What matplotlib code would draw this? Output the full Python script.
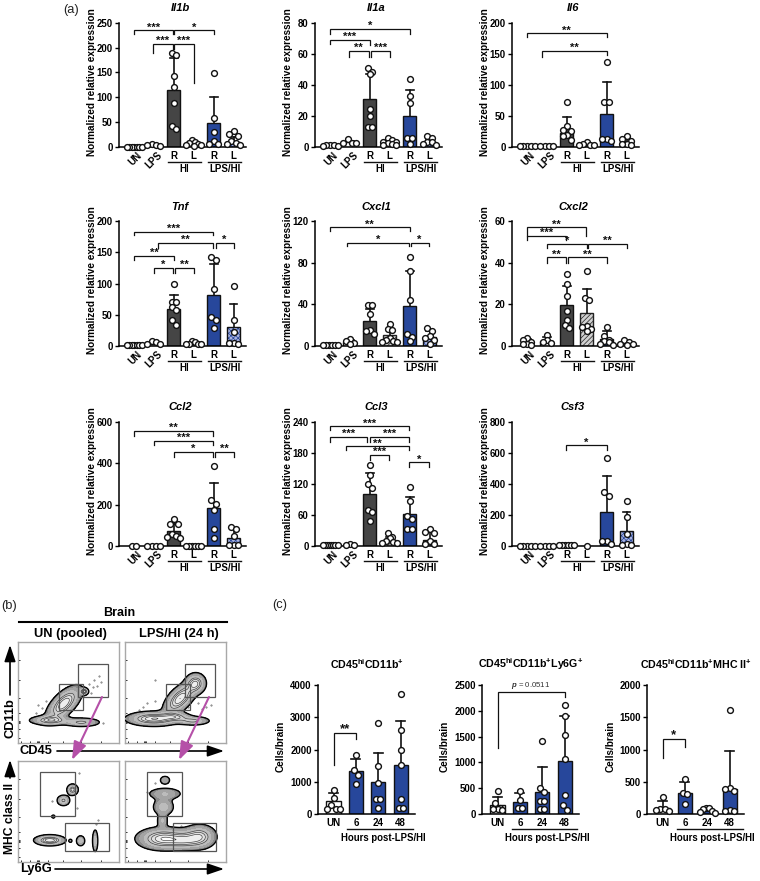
import numpy as np
import matplotlib
matplotlib.use('Agg')
import matplotlib.pyplot as plt
from matplotlib.patches import Rectangle

plt.rcParams['font.family'] = ['Liberation Sans', 'DejaVu Sans']
plt.rcParams['font.weight'] = 'bold'
plt.rcParams['mathtext.fontset'] = 'custom'
plt.rcParams['mathtext.rm'] = 'Liberation Sans:bold'
plt.rcParams['mathtext.bf'] = 'Liberation Sans:bold'
plt.rcParams['mathtext.it'] = 'Liberation Sans:italic'
plt.rcParams['hatch.linewidth'] = 0.5

# ---------- Panel (a) data ----------
IL1B_BAR = [1, 4.5, 114, 7, 48, 11]
IL1B_ERR = [1.5, 6, 178, 10, 100, 21]
IL1B_PTS = [[.5, .5, .5, .5, .5, .5, .5], [2, 5, 7, 5], [185, 190, 142, 120, 88, 42, 36],
            [14, 10, 8, 6, 5, 4, 3], [148, 58, 31, 13, 7, 7], [32, 27, 22, 12, 8, 6, 5]]
IL1A_BAR = [1, 3, 31, 3.5, 20, 3]
IL1A_ERR = [1.5, 4, 47, 5, 37, 4.5]
IL1A_PTS = [[1.5, 1, 1, .8, .5], [5, 2.5, 2.5, 2.5], [51, 48, 47, 24.5, 20, 13, 13],
            [6, 4.5, 3.5, 3, 2.5, 2, 1.5, 1.5], [44, 33, 28, 6, 5.5, 2], [7, 6, 3.5, 3, 2, 1.5]]
IL6_BAR = [1, 1, 23, 5, 53, 10]
IL6_ERR = [1, 1, 49, 6, 104, 14]
IL6_PTS = [[1, 1, 1, 1, 1], [1, 1, 1, 1], [72, 33, 28, 25, 20, 17, 12], [8, 5, 4, 4, 3],
           [137, 73, 73, 13, 13, 10], [17, 13, 10, 5, 5, 4]]
TNF_BAR = [1, 4, 60, 4, 81, 30]
TNF_ERR = [2, 7, 82, 5, 132, 67]
TNF_PTS = [[1, 1, 1, 1, 1, 1, 1], [8, 6, 4, 3], [100, 71, 70, 62, 57, 42, 34],
           [8, 6, 4, 3, 3, 3], [143, 138, 92, 46, 42, 29], [96, 42, 22, 5, 5, 4]]
CXCL1_BAR = [1, 4, 24, 11, 38, 9]
CXCL1_ERR = [2, 6, 36, 16, 72, 14]
CXCL1_PTS = [[1, 1, 1, 1, 1, 1], [7, 5, 2.5, 2], [39, 39, 31, 15, 14, 12],
             [21, 16, 15, 8, 6, 5, 4, 4], [85, 72, 44, 11.5, 9, 4.5], [17, 14, 10, 8, 6, 2]]
CXCL2_BAR = [2, 2.5, 19.5, 16, 3.5, 1]
CXCL2_ERR = [3.5, 4.5, 29, 27.5, 7, 2]
CXCL2_PTS = [[4, 3, 2, 1, 1, .5], [5.5, 3, 2, 1.5], [34.5, 30, 24, 17, 12.5, 10, 8.5],
             [36, 23, 22, 9.5, 9, 8, 7], [9, 5, 3, 2.5, 2, 1, .5], [3, 2, 1, 1, .5]]
CCL2_BAR = [0, 1, 75, 1, 185, 40]
CCL2_ERR = [0, 1, 105, 2, 307, 85]
CCL2_PTS = [[0, 0], [1, 1, 1, 1], [130, 105, 105, 60, 50, 45, 40], [2, 2, 1, 1, 1, 0],
            [385, 225, 205, 175, 80, 40], [90, 80, 50, 5, 3, 3]]
CCL3_BAR = [1, 2, 100, 12, 62, 12]
CCL3_ERR = [2, 3, 142, 18, 95, 27]
CCL3_PTS = [[1, 1, 1, 1, 1, 1, 1, 1], [4, 2, 2], [157, 138, 120, 112, 70, 65, 48],
            [26, 17, 15, 10, 8, 6, 5], [114, 88, 59, 52, 33, 33], [33, 28, 25, 9, 3, 3]]
CSF3_BAR = [3, 3, 5, 1, 220, 100]
CSF3_ERR = [3, 3, 6, 1, 450, 220]
CSF3_PTS = [[3, 3, 3, 3, 3], [3, 3, 3, 3], [5, 5, 5, 5, 5, 5], [1],
            [570, 350, 320, 35, 30, 10], [290, 190, 80, 10, 8, 8]]

# brackets: x1, x2, y, label, lower end left, lower end right
IL1B_BR = [(0, 1.97, 235, '***', 227, 227), (2.03, 4, 235, '*', 227, 227),
           (.95, 1.97, 208, '***', 190, 198), (2.03, 3, 208, '***', 198, 129)]
IL1A_BR = [(0, 4, 76, '*', 72.7, 72.7), (0, 2, 69, '***', 66, 65.5),
           (.95, 1.95, 62, '**', 58, 58), (2.05, 3, 62, '***', 58, 58)]
IL6_BR = [(0, 4, 183, '**', 177, 177), (.75, 4, 155, '**', 145, 148)]
TNF_BR = [(0, 3.97, 183, '***', 177.5, 177.5), (1.2, 3.97, 165, '**', 157, 157),
          (4.1, 5, 165, '*', 157, 157), (0, 2, 144, '**', 137, 137),
          (1, 1.97, 125, '*', 117, 117), (2.07, 3, 125, '**', 117, 117)]
CXCL1_BR = [(0, 4, 114, '**', 110, 110), (.85, 3.97, 99, '*', 96, 96), (4.05, 4.95, 99, '*', 96, 96)]
CXCL2_BR = [(0, 2.97, 57, '**', 53, 53), (0, 1.97, 53, '***', 51, 51), (1, 3, 49, '*', 47, 47),
            (3.07, 5, 49, '**', 47, 47), (1, 1.95, 42.5, '**', 40, 40), (2.05, 4, 42.5, '**', 40, 40)]
CCL2_BR = [(0, 3.97, 557, '**', 533, 533), (1, 3.97, 509, '***', 488, 488),
           (2, 3.97, 456, '*', 433, 433), (4.05, 5.05, 456, '**', 433, 433)]
CCL3_BR = [(0, 3.97, 232, '***', 224, 224), (0, 1.85, 211, '***', 202, 202),
           (2.03, 3.97, 211, '***', 202, 202), (.8, 3.97, 193, '**', 185, 185),
           (2.03, 2.95, 176, '***', 166, 166), (3.97, 4.95, 162, '*', 153, 153)]
CSF3_BR = [(1.97, 4, 650, '*', 622, 622)]

# ---------- Panel (c) data ----------
C_LABELS = ['UN', '6', '24', '48']
C1_BAR = [400, 1320, 980, 1520]
C1_ERR = [640, 1720, 1900, 2880]
C1_PTS = [[750, 490, 290, 170, 160, 150], [1820, 1350, 1210, 925],
          [2830, 1500, 970, 460, 460, 185], [3720, 2620, 2000, 1530, 450, 190, 190]]
C2_BAR = [170, 240, 430, 1030]
C2_ERR = [330, 400, 910, 1890]
C2_PTS = [[437, 212, 115, 100, 90, 80], [450, 276, 120, 120],
          [1420, 500, 430, 260, 250, 90, 90], [2110, 1900, 1530, 1060, 370, 170, 70]]
C3_BAR = [100, 320, 60, 390]
C3_ERR = [205, 490, 90, 970]
C3_PTS = [[270, 80, 70, 60, 50], [550, 320, 313, 160],
          [100, 90, 80, 40, 30, 20], [1620, 400, 380, 360, 60, 50, 40]]

# ---------- Panel (b) density peaks: x, y, sx, sy, angle, weight ----------
FLOW_TL = [(45.5, 39, 12, 5.5, 45, 1), (31.5, 22.5, 11, 2.6, 0, .7), (63, 20.5, 10, 2.4, 0, .6), (65.5, 51, 2.2, 1.8, 0, .9)]
FLOW_TR = [(28, 24, 14, 3.8, 0, 1), (67.6, 22, 9, 2.4, 0, .6), (51, 26, 8, 2.5, 0, .5),
           (54.5, 44, 11, 5.5, 45, 1), (70, 59, 5.5, 5.5, 0, .8)]
FLOW_BL = [(31.5, 21.5, 8, 2.8, 0, 1), (54, 71.6, 3, 3, 0, .8), (45, 61, 3.6, 3, 0, .6), (35, 45, 1, 1, 0, .4),
           (62, 21, 2.5, 3, 0, .5), (76.4, 21, 1.6, 6.5, 0, .5), (52, 21, 1, 1, 0, .3)]
FLOW_BR = [(38, 23, 14, 6, 0, 1), (74, 25, 9, 6.5, 0, .8), (59, 21, 9, 5, 0, .5), (38, 54.5, 6, 5, 0, .5),
           (39.6, 67.6, 10, 3.6, 0, .4), (39.6, 81, 3, 2.5, 0, .4), (37, 41, 3, 4, 0, .4)]
GATES_TL = [(59, 46, 30, 32), (41, 33, 23, 25)]
GATES_TR = [(59, 46, 30, 32), (41, 33, 23, 25)]
GATES_BL = [(22, 46, 34, 43), (47, 11, 43, 28)]
GATES_BR = [(22, 46, 34, 43), (48, 11, 42, 28)]
EVENTS_TL = [(75, 62), (78, 56), (72, 50), (80, 66), (74, 55), (70, 58), (82, 60), (24, 35), (20, 38), (28, 42), (18, 30), (84, 20)]
EVENTS_TR = [(30, 62), (22, 40), (18, 36), (14, 33), (30, 42), (72, 40), (80, 36), (76, 34), (85, 38), (62, 36), (8, 28)]
EVENTS_BL = [(58, 53), (34, 60), (60, 88), (77, 38), (79, 42)]
EVENTS_BR = [(24, 68), (22, 69), (47, 62), (55, 36), (30, 78)]

BLUE = '#27479b'
DARK = '#454545'

fig = plt.figure(figsize=(7.6, 8.81), dpi=100)
W, H = 760, 881


def ax_px(l, t, r, b):
    return fig.add_axes([l / W, 1 - b / H, (r - l) / W, (b - t) / H])


ov = fig.add_axes([0, 0, 1, 1], zorder=20)
ov.set_xlim(0, W)
ov.set_ylim(H, 0)
ov.axis('off')
ov.patch.set_alpha(0)


def swarm(vals, ppu):
    """Lay points of nearly equal height side by side, highest in the middle."""
    order = sorted(vals, reverse=True)
    xs, ys = [], []
    i = 0
    while i < len(order):
        j = i
        while j + 1 < len(order) and (order[i] - order[j + 1]) * ppu < 5.2:
            j += 1
        grp = order[i:j + 1]
        n = len(grp)
        step = 4.3 if n < 2 else min(4.3, 15 / (n - 1))
        slots = [(k - (n - 1) / 2) * step for k in range(n)]
        slots.sort(key=abs)
        xs += slots
        ys += grp
        i = j + 1
    return xs, ys


def style(ax, yticks):
    for s in ('top', 'right'):
        ax.spines[s].set_visible(False)
    for s in ('left', 'bottom'):
        ax.spines[s].set_linewidth(1.1)
    ax.set_xticks([])
    ax.set_yticks(yticks)
    ax.tick_params(axis='y', length=3, width=1.0, pad=1.5, labelsize=6.9)
    ax.patch.set_alpha(0)


def bracket(ax, x1, x2, y, lab, lo1, lo2, fs=8):
    ax.plot([x1, x1, x2, x2], [lo1, y, y, lo2], color='#111', lw=0.9, clip_on=False,
            solid_joinstyle='miter', zorder=6)
    if lab.startswith('*'):
        ax.annotate(lab, ((x1 + x2) / 2, y), xytext=(0, -1.6), textcoords='offset points',
                    ha='center', va='bottom', fontsize=fs, fontweight='bold', color='#111', annotation_clip=False)


def points(ax, x0, vals, h_px, ymax, spacing):
    offs, ys = swarm(vals, h_px / ymax)
    xs = [x0 + o / spacing for o in offs]
    ax.plot(xs, ys, 'o', ms=4.2, mfc='white', mec='#111', mew=1.0, clip_on=False, zorder=5)


def cyto(l, r, t, b, name, ymax, yticks, bars, errs, pts, brs):
    sp = 19.9
    x_first = l + 15
    ax = ax_px(l, t, r, b)
    ax.set_ylim(0, ymax)
    ax.set_xlim((l - x_first) / sp, (r - x_first) / sp)
    style(ax, yticks)
    for i in range(6):
        if i in (2, 4):
            fc = DARK if i == 2 else BLUE
            ax.bar(i, bars[i], .65, color=fc, edgecolor='#111', lw=1.0, zorder=2)
        elif i == 3:
            ax.bar(i, bars[i], .65, color='#d0d0d0', edgecolor='#222', hatch='///////', lw=1.0, zorder=2)
        elif i == 5:
            ax.bar(i, bars[i], .65, color='#aab4e0', edgecolor=BLUE, hatch='xxxxxxx', lw=0, zorder=2)
            ax.bar(i, bars[i], .65, fill=False, edgecolor='#111', lw=1.0, zorder=2)
        else:
            ax.bar(i, bars[i], .65, color='white', edgecolor='#111', lw=1.0, zorder=2)
        if errs[i] > bars[i]:
            ax.plot([i, i], [bars[i], errs[i]], color='#111', lw=1.2, zorder=3)
            ax.plot([i - .2, i + .2], [errs[i], errs[i]], color='#111', lw=1.2, zorder=3)
        points(ax, i, pts[i], b - t, ymax, sp)
    for br in brs:
        bracket(ax, *br)
    ov.text(l + 61, t - 14.5, name, style='italic', fontsize=8, ha='center', va='center')
    ov.text(l - 27, (t + b) / 2 - 3, 'Normalized relative expression', rotation=90, fontsize=7.2,
            ha='center', va='center')
    px = lambda v: x_first + sp * v
    for i, s in enumerate(['UN', 'LPS']):
        ov.text(px(i) + 3, b + 3, s, rotation=45, ha='right', va='top', rotation_mode='anchor', fontsize=7)
    for i, s in zip(range(2, 6), 'RLRL'):
        ov.text(px(i), b + 9, s, ha='center', va='center', fontsize=7)
    for a, c, s in [(1.7, 3.37, 'HI'), (3.72, 5.38, 'LPS/HI')]:
        ov.plot([px(a), px(c)], [b + 15, b + 15], color='#111', lw=1.0)
        ov.text((px(a) + px(c)) / 2, b + 22, s, ha='center', va='center', fontsize=7)


cyto(119, 246, 22.7, 147, 'Il1b', 250, [0, 50, 100, 150, 200, 250], IL1B_BAR, IL1B_ERR, IL1B_PTS, IL1B_BR)
cyto(315, 442, 22.7, 147, 'Il1a', 80, [0, 20, 40, 60, 80], IL1A_BAR, IL1A_ERR, IL1A_PTS, IL1A_BR)
cyto(512, 639, 22.7, 147, 'Il6', 200, [0, 50, 100, 150, 200], IL6_BAR, IL6_ERR, IL6_PTS, IL6_BR)
cyto(119, 246, 221, 346, 'Tnf', 200, [0, 50, 100, 150, 200], TNF_BAR, TNF_ERR, TNF_PTS, TNF_BR)
cyto(315, 442, 221, 346, 'Cxcl1', 120, [0, 40, 80, 120], CXCL1_BAR, CXCL1_ERR, CXCL1_PTS, CXCL1_BR)
cyto(512, 639, 221, 346, 'Cxcl2', 60, [0, 20, 40, 60], CXCL2_BAR, CXCL2_ERR, CXCL2_PTS, CXCL2_BR)
cyto(119, 246, 422, 546, 'Ccl2', 600, [0, 200, 400, 600], CCL2_BAR, CCL2_ERR, CCL2_PTS, CCL2_BR)
cyto(315, 442, 422, 546, 'Ccl3', 240, [0, 60, 120, 180, 240], CCL3_BAR, CCL3_ERR, CCL3_PTS, CCL3_BR)
cyto(512, 639, 422, 546, 'Csf3', 800, [0, 200, 400, 600, 800], CSF3_BAR, CSF3_ERR, CSF3_PTS, CSF3_BR)


def cells(l, r, title, tx, ymax, yticks, bars, errs, pts, br, ylx, line, txt):
    t, b = 685, 814
    sp = 22.4
    x_first = l + 15.5
    ax = ax_px(l, t, r, b)
    ax.set_ylim(0, ymax)
    ax.set_xlim((l - x_first) / sp, (r - x_first) / sp)
    style(ax, yticks)
    for i in range(4):
        ax.bar(i, bars[i], .64, color=BLUE if i else 'white', edgecolor='#111', lw=1.0, zorder=2)
        ax.plot([i, i], [bars[i], errs[i]], color='#111', lw=1.2, zorder=3)
        ax.plot([i - .2, i + .2], [errs[i], errs[i]], color='#111', lw=1.2, zorder=3)
        points(ax, i, pts[i], b - t, ymax, sp)
        ov.text(x_first + sp * i, b + 9, C_LABELS[i], ha='center', va='center', fontsize=7)
    bracket(ax, *br, fs=9.5)
    ov.text(tx, 664, title, ha='center', va='center', fontsize=7.7)
    ov.text(ylx, 746, 'Cells/brain', rotation=90, ha='center', va='center', fontsize=7.2)
    ov.plot(line, [829, 829], color='#111', lw=1.0)
    ov.text(txt, 838, 'Hours post-LPS/HI', ha='center', va='center', fontsize=6.9)


cells(318, 415, r'CD45$^{\mathrm{hi}}$CD11b$^{+}$', 367, 4000, [0, 1000, 2000, 3000, 4000],
      C1_BAR, C1_ERR, C1_PTS, (0, 1, 2500, '**', 1520, 2320), 281, [347, 413], 383)
cells(482, 579, r'CD45$^{\mathrm{hi}}$CD11b$^{+}$Ly6G$^{+}$', 531, 2500, [0, 500, 1000, 1500, 2000, 2500],
      C2_BAR, C2_ERR, C2_PTS, (0, 3, 2365, 'p', 1285, 2270), 445, [512, 577], 547)
cells(647, 744, r'CD45$^{\mathrm{hi}}$CD11b$^{+}$MHC II$^{+}$', 696, 2000, [0, 500, 1000, 1500, 2000],
      C3_BAR, C3_ERR, C3_PTS, (0, 1, 1162, '*', 864, 1044), 611, [677, 743], 712)
ov.text(531, 685.5, r'$\mathit{p}$ = 0.0511', ha='center', va='center', fontsize=5.6, color='#333', fontweight='normal')

# ---------- Panel (b) ----------
gx, gy = np.meshgrid(np.linspace(0, 100, 400), np.linspace(0, 100, 400))


def density(peaks):
    z = np.zeros_like(gx)
    for cx, cy, sx, sy, ang, w in peaks:
        a = np.deg2rad(ang)
        u = (gx - cx) * np.cos(a) + (gy - cy) * np.sin(a)
        v = -(gx - cx) * np.sin(a) + (gy - cy) * np.cos(a)
        z = z + w * np.exp(-.5 * (u ** 2 / sx ** 2 + v ** 2 / sy ** 2))
    return z


LEVELS = [.13, .25, .4, .55, .7, .85, 1.0, 3]
FILLS = ['#8a8a8a', '#a4a4a4', '#bcbcbc', '#cfcfcf', '#e0e0e0', '#eeeeee', '#ffffff']


def flow(l, t, peaks, gates, events):
    ax = ax_px(l, t, l + 101, t + 101)
    ax.set_xlim(0, 100)
    ax.set_ylim(0, 100)
    for s in ax.spines.values():
        s.set_color('#a8a8a8')
        s.set_linewidth(1.0)
    ax.set_xticks([3, 12, 19, 20, 21, 30, 45, 62, 82])
    ax.set_yticks([5, 14, 20, 21, 22, 30, 45, 62, 82])
    ax.tick_params(length=1.5, width=.6, direction='in', labelleft=False, labelbottom=False)
    z = density(peaks)
    ax.contourf(gx, gy, z, levels=LEVELS, colors=FILLS, zorder=2)
    ax.contour(gx, gy, z, levels=LEVELS[:1], colors='black', linewidths=1.0, zorder=3)
    ax.contour(gx, gy, z, levels=LEVELS[3:-1], colors='#333', linewidths=.45, zorder=3)
    ex, ey = zip(*events)
    ax.plot(ex, ey, '.', ms=.8, color='#555', zorder=1)
    for gxx, gyy, gw, gh in gates:
        ax.add_patch(Rectangle((gxx, gyy), gw, gh, fill=False, ec='#555', lw=.9, zorder=4))


flow(18, 642, FLOW_TL, GATES_TL, EVENTS_TL)
flow(125, 642, FLOW_TR, GATES_TR, EVENTS_TR)
flow(18, 761, FLOW_BL, GATES_BL, EVENTS_BL)
flow(125, 761, FLOW_BR, GATES_BR, EVENTS_BR)

ov.text(119, 613.5, 'Brain', ha='center', va='center', fontsize=9)
ov.plot([19, 227], [622, 622], color='black', lw=1.5)
ov.text(70, 634, 'UN (pooled)', ha='center', va='center', fontsize=9.3)
ov.text(179, 634, 'LPS/HI (24 h)', ha='center', va='center', fontsize=9.3)
ov.text(10, 718, 'CD11b', rotation=90, ha='center', va='center', fontsize=9.3)
ov.text(36, 751, 'CD45', ha='center', va='center', fontsize=9.3)
ov.text(36, 869, 'Ly6G', ha='center', va='center', fontsize=9.3)
ov.text(10, 819, 'MHC class II', rotation=90, ha='center', va='center', fontsize=8.7)


def arrow(a, b, color='black', lw=1.2, hl=10, hw=3.4):
    ov.annotate('', xy=b, xytext=a, arrowprops=dict(
        arrowstyle=f'-|>,head_length={hl / 10},head_width={hw / 10}', mutation_scale=10,
        color=color, lw=lw, shrinkA=0, shrinkB=0))


arrow((10, 695), (10, 645))
arrow((10, 778), (10, 760))
arrow((57, 751), (224, 751))
arrow((55, 869), (224, 869))
arrow((102, 697), (72, 760), color='#b550a8', lw=1.5, hl=11, hw=4)
arrow((209, 697), (179, 760), color='#b550a8', lw=1.5, hl=11, hw=4)

for x, y, s in [(71, 10, '(a)'), (9.5, 606, '(b)'), (280, 605, '(c)')]:
    ov.text(x, y, s, ha='center', va='center', fontsize=9.3, fontweight='normal', color='#222')

fig.savefig('out.png', dpi=100)
